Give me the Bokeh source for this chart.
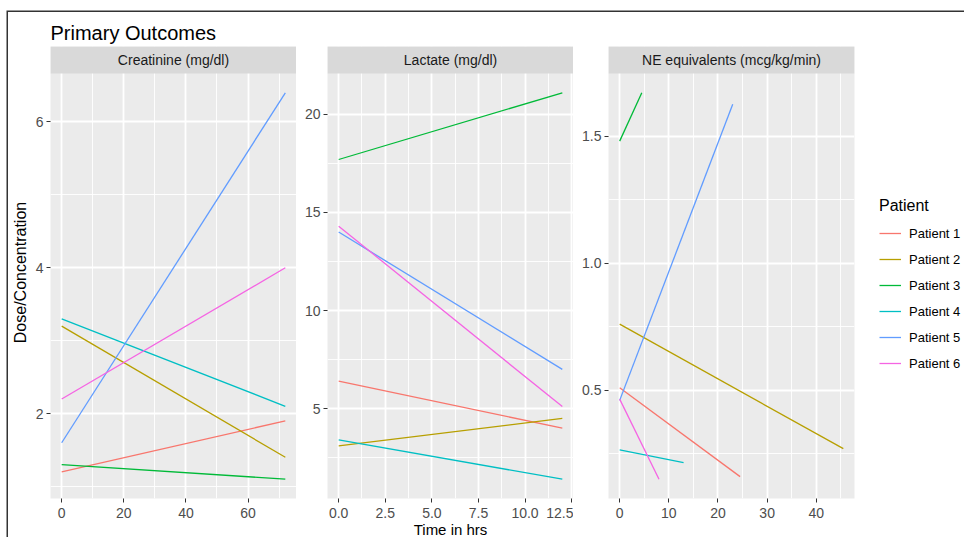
from bokeh.plotting import figure
from bokeh.models import (Range1d, FixedTicker, BoxAnnotation, Label, Legend, LegendItem,
                          NumeralTickFormatter)
from bokeh.layouts import row
from bokeh.embed import file_html
from bokeh.resources import INLINE

# ---------------- data ----------------
patients = ["Patient 1", "Patient 2", "Patient 3", "Patient 4", "Patient 5", "Patient 6"]
colors = ["#F8766D", "#B79F00", "#00BA38", "#00BFC4", "#619CFF", "#F564E3"]

# Creatinine (mg/dl): value at time 0 and at the last time point
creat_time_end = [72, 72, 72, 72, 72, 72]
creat_start = [1.2, 3.2, 1.3, 3.3, 1.6, 2.2]
creat_end = [1.9, 1.4, 1.1, 2.1, 6.4, 4.0]

# Lactate (mg/dl)
lact_time_end = [12, 12, 12, 12, 12, 12]
lact_start = [6.4, 3.1, 17.7, 3.4, 14.0, 14.3]
lact_end = [4.0, 4.5, 21.1, 1.4, 7.0, 5.1]

# NE equivalents (mcg/kg/min)
ne_time_end = [24.5, 45.5, 4.5, 13, 23, 8]
ne_start = [0.51, 0.76, 1.48, 0.265, 0.46, 0.465]
ne_end = [0.16, 0.27, 1.67, 0.215, 1.625, 0.15]

panel_titles = ["Creatinine (mg/dl)", "Lactate (mg/dl)", "NE equivalents (mcg/kg/min)"]

creat_xticks = [0, 20, 40, 60]
creat_xminor = [10, 30, 50, 70]
creat_yticks = [2, 4, 6]
creat_yminor = [1, 3, 5]

lact_xticks = [0, 2.5, 5, 7.5, 10, 12.5]
lact_xminor = [1.25, 3.75, 6.25, 8.75, 11.25]
lact_yticks = [5, 10, 15, 20]
lact_yminor = [2.5, 7.5, 12.5, 17.5]

ne_xticks = [0, 10, 20, 30, 40]
ne_xminor = [5, 15, 25, 35, 45]
ne_yticks = [0.5, 1.0, 1.5]
ne_yminor = [0.25, 0.75, 1.25]

# ---------------- style ----------------
FONT = "Liberation Sans"
FRAME_W = 246
FRAME_H = 452
STRIP_PX = 27
TOP = 34
BOTTOM = 39


def expand(lo, hi, frac=0.05):
    d = (hi - lo) * frac
    return lo - d, hi + d


def make_panel(title, t_end, y0, y1, xt, xm, yt, ym, left, right, xfmt=None, yfmt=None):
    xs_all = [0] + list(t_end)
    ys_all = list(y0) + list(y1)
    xlo, xhi = expand(min(xs_all), max(xs_all))
    ylo, yhi = expand(min(ys_all), max(ys_all))
    panel_px = FRAME_H - STRIP_PX
    ytop = yhi + (yhi - ylo) * STRIP_PX / panel_px

    p = figure(frame_width=FRAME_W, frame_height=FRAME_H,
               x_range=Range1d(xlo, xhi), y_range=Range1d(ylo, ytop),
               toolbar_location=None, output_backend="svg",
               min_border_left=left, min_border_right=right,
               min_border_top=TOP, min_border_bottom=BOTTOM)
    p.background_fill_color = "#EBEBEB"
    p.border_fill_color = "white"
    p.outline_line_color = None

    p.xaxis.ticker = FixedTicker(ticks=xt, minor_ticks=xm)
    p.yaxis.ticker = FixedTicker(ticks=yt, minor_ticks=ym)
    if xfmt:
        p.xaxis.formatter = NumeralTickFormatter(format=xfmt)
    if yfmt:
        p.yaxis.formatter = NumeralTickFormatter(format=yfmt)
    for ax in (p.xaxis, p.yaxis):
        ax.axis_line_color = None
        ax.major_tick_line_color = "#333333"
        ax.major_tick_line_width = 1
        ax.major_tick_out = 4
        ax.major_tick_in = 0
        ax.minor_tick_line_color = None
        ax.major_label_text_color = "#4D4D4D"
        ax.major_label_text_font = FONT
        ax.major_label_text_font_size = "14px"
    p.xaxis.major_label_standoff = 5
    p.yaxis.major_label_standoff = 3
    p.grid.grid_line_color = "white"
    p.grid.grid_line_width = 1.8
    p.grid.minor_grid_line_color = "white"
    p.grid.minor_grid_line_width = 0.9

    renderers = []
    for i in range(len(patients)):
        r = p.line([0, t_end[i]], [y0[i], y1[i]], line_color=colors[i], line_width=1.3)
        renderers.append(r)

    # facet strip
    p.add_layout(BoxAnnotation(bottom=yhi, fill_color="#D9D9D9", fill_alpha=1.0,
                               line_color=None))
    p.add_layout(Label(x=(xlo + xhi) / 2, y=(yhi + ytop) / 2, text=title,
                       text_align="center", text_baseline="middle",
                       text_font=FONT, text_font_size="14px", text_color="#1A1A1A"))
    return p, renderers


p1, r1 = make_panel(panel_titles[0], creat_time_end, creat_start, creat_end,
                    creat_xticks, creat_xminor, creat_yticks, creat_yminor, 42, 0)
p2, r2 = make_panel(panel_titles[1], lact_time_end, lact_start, lact_end,
                    lact_xticks, lact_xminor, lact_yticks, lact_yminor, 31, 0, xfmt="0.0")
p3, r3 = make_panel(panel_titles[2], ne_time_end, ne_start, ne_end,
                    ne_xticks, ne_xminor, ne_yticks, ne_yminor, 35, 110, yfmt="0.0")

# overall title
p1.title.text = "Primary Outcomes"
p1.title.text_font = FONT
p1.title.text_font_size = "20px"
p1.title.text_font_style = "normal"
p1.title.text_color = "black"
p1.title.align = "left"
p1.title.offset = 0
p1.title.standoff = 5

# axis titles
p1.yaxis.axis_label = "Dose/Concentration"
p1.yaxis.axis_label_text_font = FONT
p1.yaxis.axis_label_text_font_size = "16px"
p1.yaxis.axis_label_text_font_style = "normal"
p1.yaxis.axis_label_text_color = "black"
p1.yaxis.axis_label_standoff = 4

p2.xaxis.axis_label = "Time in hrs"
p2.xaxis.axis_label_text_font = FONT
p2.xaxis.axis_label_text_font_size = "15px"
p2.xaxis.axis_label_text_font_style = "normal"
p2.xaxis.axis_label_text_color = "black"
p2.xaxis.axis_label_standoff = 0

# legend
legend = Legend(items=[LegendItem(label=patients[i], renderers=[r3[i]]) for i in range(len(patients))],
                title="Patient", location=(25, 125))
legend.title_text_font = FONT
legend.title_text_font_size = "16px"
legend.title_text_font_style = "normal"
legend.title_text_color = "black"
legend.title_standoff = 8
legend.label_text_font = FONT
legend.label_text_font_size = "13px"
legend.label_text_color = "black"
legend.glyph_width = 22
legend.glyph_height = 20
legend.label_height = 20
legend.spacing = 6
legend.label_standoff = 8
legend.padding = 2
legend.margin = 0
legend.border_line_color = None
legend.background_fill_alpha = 0
p3.add_layout(legend, "right")

layout = row(p1, p2, p3, styles={"margin-left": "8px", "margin-top": "12px",
                                 "box-shadow": "-1.5px -1.5px 0 0 #333"})

open("out.html", "w").write(file_html(layout, INLINE))
